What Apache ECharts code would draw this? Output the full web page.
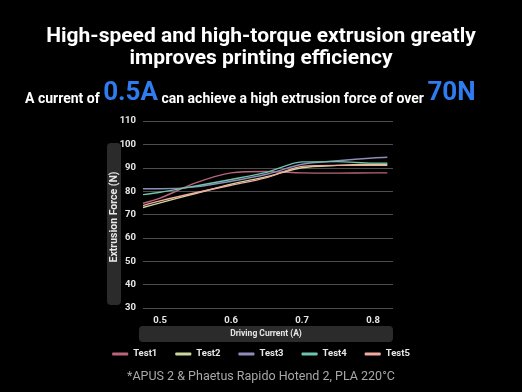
<!DOCTYPE html>
<html>
<head>
<meta charset="utf-8">
<script src="https://cdn.jsdelivr.net/npm/echarts@6/dist/echarts.min.js"></script>
<style>
html,body{margin:0;padding:0;background:#000;}
#c{width:522px;height:392px;}
</style>
</head>
<body>
<div id="c"></div>
<script>
var xValues = [0.476, 0.5, 0.55, 0.6, 0.65, 0.7, 0.75, 0.8, 0.82];
var test1 = [74.8, 77, 83.5, 87.8, 88.4, 87.8, 87.7, 87.8, 87.8];
var test2 = [73, 75, 79, 83, 86.2, 90, 91, 91.5, 91.5];
var test3 = [81, 81, 81.8, 84.2, 87.2, 91.5, 93, 94.2, 94.5];
var test4 = [78.5, 79.5, 82.2, 85, 88, 92.5, 92.6, 92, 92];
var test5 = [73.8, 75.8, 79.3, 82.5, 85.8, 90.6, 91, 91, 91];
var seriesNames = ['Test1', 'Test2', 'Test3', 'Test4', 'Test5'];
var seriesData = [test1, test2, test3, test4, test5];
var seriesColors = ['#b8657a', '#cdd59c', '#8e8cb8', '#6fc4ae', '#f2aaa0'];
var xTicks = [0.5, 0.6, 0.7, 0.8];

var chart = echarts.init(document.getElementById('c'));
var series = seriesNames.map(function (n, i) {
  return {
    name: n,
    type: 'line',
    smooth: 0.3,
    showSymbol: false,
    symbol: 'none',
    data: xValues.map(function (x, j) { return [x, seriesData[i][j]]; }),
    lineStyle: { width: 1.4, color: seriesColors[i] },
    itemStyle: { color: seriesColors[i] }
  };
});

chart.setOption({
  backgroundColor: '#000',
  animation: false,
  textStyle: { fontFamily: 'Roboto' },
  grid: { left: 143, right: 129, top: 121, bottom: 84, containLabel: false },
  legend: {
    data: seriesNames,
    bottom: 28,
    left: 'center',
    icon: 'roundRect',
    itemWidth: 16,
    itemHeight: 3,
    itemGap: 18,
    textStyle: { color: '#e6e6e6', fontSize: 9.5, fontWeight: 'bold', fontFamily: 'Roboto' }
  },
  xAxis: {
    type: 'value',
    min: 0.476,
    max: 0.828,
    axisLine: { show: false },
    axisTick: { show: false },
    splitLine: { show: false },
    axisLabel: {
      customValues: xTicks,
      color: '#e6e6e6',
      fontSize: 9.5,
      fontWeight: 'bold',
      margin: 8,
      formatter: function (v) { return v.toFixed(1); }
    }
  },
  yAxis: {
    type: 'value',
    min: 30,
    max: 110,
    interval: 10,
    axisLine: { show: false },
    axisTick: { show: false },
    splitLine: { lineStyle: { color: '#4d4d4d', width: 1 } },
    axisLabel: { color: '#e6e6e6', fontSize: 9.5, fontWeight: 'bold', margin: 7 }
  },
  graphic: [
    {
      type: 'text', left: 'center', top: 26,
      style: {
        text: 'High-speed and high-torque extrusion greatly\nimproves printing efficiency',
        fill: '#fff', font: 'bold 21px Roboto', textAlign: 'center', lineHeight: 22
      }
    },
    {
      type: 'text', left: 25, top: 80,
      style: {
        text: '{w|A current of }{b|0.5A}{w| can achieve a high extrusion force of over }{b|70N}',
        rich: {
          w: { fill: '#fff', font: 'bold 14px Roboto', verticalAlign: 'bottom' },
          b: { fill: '#2f7cf0', font: 'bold 26px Roboto', verticalAlign: 'bottom' }
        }
      }
    },
    {
      type: 'rect', shape: { x: 107, y: 143, width: 14, height: 162, r: 4 },
      style: { fill: '#2b2b2b' }, z: -1
    },
    {
      type: 'text', x: 114, y: 217, rotation: Math.PI / 2,
      style: { text: 'Extrusion Force (N)', fill: '#e6e6e6', font: 'bold 10.5px Roboto', textAlign: 'center', textVerticalAlign: 'middle' }
    },
    {
      type: 'rect', shape: { x: 139, y: 326, width: 254, height: 16, r: 4 },
      style: { fill: '#2b2b2b' }, z: -1
    },
    {
      type: 'text', x: 266, y: 334,
      style: { text: 'Driving Current (A)', fill: '#e6e6e6', font: 'bold 8.5px Roboto', textAlign: 'center', textVerticalAlign: 'middle' }
    },
    {
      type: 'text', left: 'center', top: 370,
      style: { text: '*APUS 2 & Phaetus Rapido Hotend 2, PLA 220°C', fill: '#a8a8a8', font: '12.5px Roboto' }
    }
  ],
  series: series
});
</script>
</body>
</html>
